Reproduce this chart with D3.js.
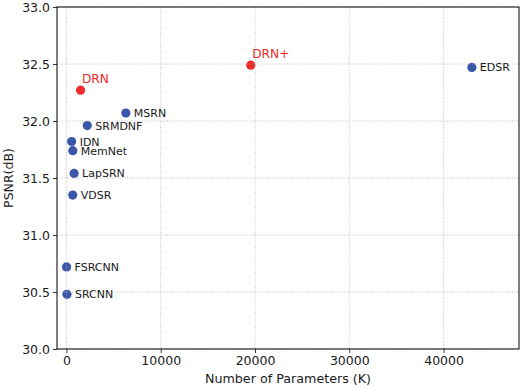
<!DOCTYPE html>
<html>
<head>
<meta charset="utf-8">
<script src="https://cdn.jsdelivr.net/npm/d3@7"></script>
<style>
  body { margin: 0; background: #fff; }
  text { font-family: "DejaVu Sans", sans-serif; }
</style>
</head>
<body>
<div id="my_dataviz"></div>
<script>
// methods, parameters (K) and PSNR (dB)
const methods = ["SRCNN", "FSRCNN", "VDSR", "LapSRN", "MemNet", "IDN", "SRMDNF", "MSRN", "EDSR", "DRN", "DRN+"];
const params = [57, 12, 665, 813, 677, 553, 2210, 6300, 43000, 1500, 19550];
const psnr = [30.48, 30.72, 31.35, 31.54, 31.74, 31.82, 31.96, 32.07, 32.47, 32.27, 32.49];
const ours = ["DRN", "DRN+"];

const xTicks = [0, 10000, 20000, 30000, 40000];
const yTicks = [30.0, 30.5, 31.0, 31.5, 32.0, 32.5, 33.0];

const width = 522, height = 388;
const margin = {top: 7, right: 3, bottom: 39, left: 57};
const chartWidth = width - margin.left - margin.right,
      chartHeight = height - margin.top - margin.bottom;

const blue = "#3a56a8", red = "#ee2a2a";

const data = methods.map((m, i) => ({name: m, p: params[i], v: psnr[i]}));

const svg = d3.select("#my_dataviz")
  .append("svg")
  .attr("width", width)
  .attr("height", height)
  .append("g")
  .attr("transform", `translate(${margin.left}, ${margin.top})`);

const x = d3.scaleLinear().domain([-1000, 48000]).range([0, chartWidth]);
const y = d3.scaleLinear().domain([30, 33]).range([chartHeight, 0]);

// points
svg.selectAll("circle.pt")
  .data(data)
  .join("circle")
  .attr("class", "pt")
  .attr("cx", d => x(d.p))
  .attr("cy", d => y(d.v))
  .attr("r", 4.6)
  .attr("fill", d => ours.includes(d.name) ? red : blue);

// grid (drawn over points like the original)
svg.append("g")
  .selectAll("line")
  .data(xTicks)
  .join("line")
  .attr("x1", d => x(d)).attr("x2", d => x(d))
  .attr("y1", 0).attr("y2", chartHeight)
  .attr("stroke", "#b0b0b0").attr("stroke-width", 0.8)
  .attr("stroke-dasharray", "1,1.5");
svg.append("g")
  .selectAll("line")
  .data(yTicks)
  .join("line")
  .attr("x1", 0).attr("x2", chartWidth)
  .attr("y1", d => y(d)).attr("y2", d => y(d))
  .attr("stroke", "#b0b0b0").attr("stroke-width", 0.8)
  .attr("stroke-dasharray", "1,1.5");

// labels
svg.selectAll("text.lbl")
  .data(data)
  .join("text")
  .attr("class", "lbl")
  .attr("x", d => ours.includes(d.name) ? x(d.p) + 1.4 : x(d.p) + 8)
  .attr("y", d => ours.includes(d.name) ? y(d.v) - 7 : y(d.v) + 4)
  .attr("fill", d => ours.includes(d.name) ? red : "#1a1a1a")
  .style("font-size", d => ours.includes(d.name) ? "12.2px" : "11px")
  .text(d => d.name);

// axes
const xAxis = svg.append("g")
  .attr("transform", `translate(0, ${chartHeight})`)
  .call(d3.axisBottom(x).tickValues(xTicks).tickFormat(d3.format("d")).tickSize(4).tickPadding(3));
const yAxis = svg.append("g")
  .call(d3.axisLeft(y).tickValues(yTicks).tickFormat(d3.format(".1f")).tickSize(4).tickPadding(3));
[xAxis, yAxis].forEach(a => {
  a.select(".domain").remove();
  a.selectAll("line").attr("stroke", "#000").attr("stroke-width", 0.8);
  a.selectAll("text").style("font-size", "12.5px").style("font-family", "DejaVu Sans").attr("fill", "#1a1a1a");
});

// frame
svg.append("rect")
  .attr("x", 0).attr("y", 0)
  .attr("width", chartWidth).attr("height", chartHeight)
  .attr("fill", "none").attr("stroke", "#000").attr("stroke-width", 1);

// axis titles
svg.append("text")
  .attr("x", chartWidth / 2)
  .attr("y", chartHeight + 34)
  .attr("text-anchor", "middle")
  .style("font-size", "12.7px")
  .attr("fill", "#1a1a1a")
  .text("Number of Parameters (K)");
svg.append("text")
  .attr("transform", `translate(${-44.5}, ${chartHeight / 2}) rotate(-90)`)
  .attr("text-anchor", "middle")
  .style("font-size", "12.5px")
  .attr("fill", "#1a1a1a")
  .text("PSNR(dB)");
</script>
</body>
</html>
